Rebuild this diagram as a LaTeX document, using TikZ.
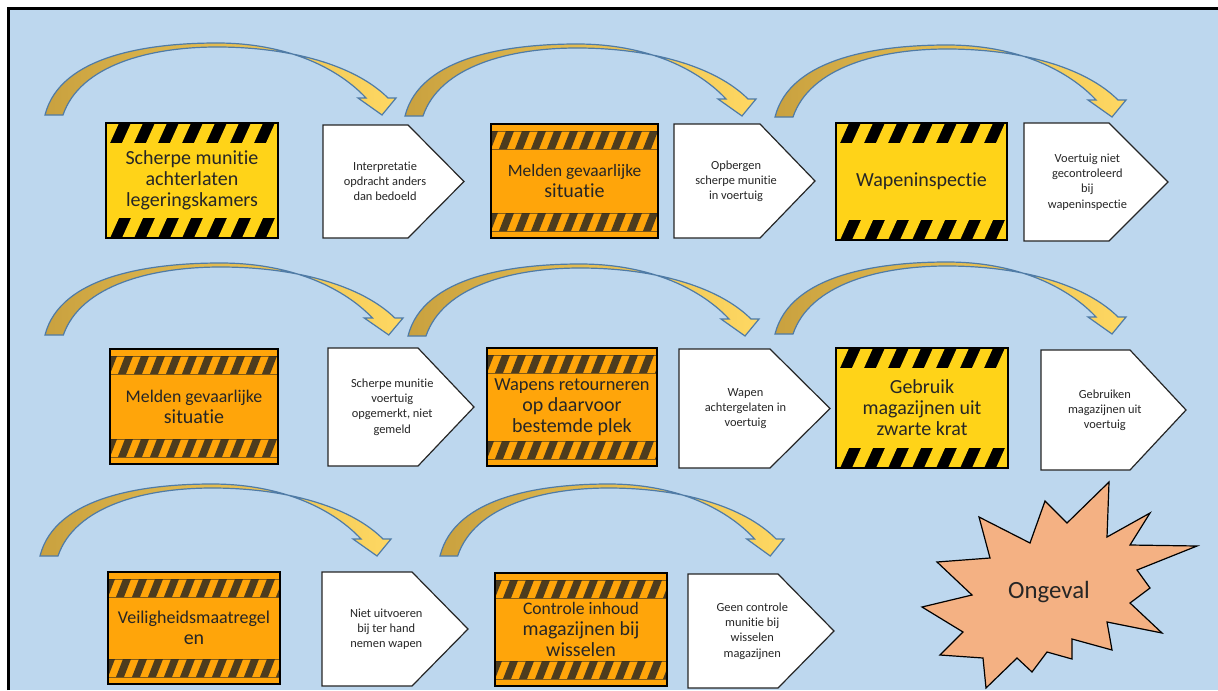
\documentclass[tikz,border=0pt]{standalone}
\usepackage{fontspec}
\setmainfont[Ligatures={NoCommon}]{Carlito}
\definecolor{bgblue}{HTML}{BDD7EE}
\definecolor{hzyellow}{HTML}{FFD318}
\definecolor{hzorange}{HTML}{FFA50A}
\definecolor{stripe}{HTML}{2E2A22}
\definecolor{goldL}{HTML}{C9A13F}
\definecolor{goldR}{HTML}{FFD862}
\definecolor{arrowline}{HTML}{4F7BA6}
\definecolor{txtgray}{HTML}{262626}
\definecolor{burst}{HTML}{F4B183}
\newcommand\fsz[2]{\fontsize{#1}{#2}\selectfont}
\tikzset{
  boxtxt/.style={text=txtgray, font=\fontsize{10}{10.5}\selectfont, align=center, inner sep=0pt},
  pentxt/.style={text=txtgray, font=\fontsize{6.2}{7.6}\selectfont, align=center, inner sep=0pt},
  pentshape/.style={draw=black!85, line width=0.6pt, fill=white},
  carrow/.pic={
    \path[draw=arrowline, line width=0.6pt, left color=goldL, right color=goldR]
      (0,0) .. controls (15,-60) and (105,-72) .. (172,-72)
      .. controls (245,-72) and (295,-45) .. (321,-17)
      -- (313,-17) -- (337,0) -- (351,-17) -- (343,-17)
      .. controls (310,-50) and (245,-68) .. (172,-68)
      .. controls (105,-68) and (35,-50) .. (18,0) -- cycle;
  }
}
% yellow hazard box: name, x1, y1, x2, y2, text
\newcommand\yelbox[6]{%
  \fill[hzyellow] (#2,#3) rectangle (#4,#5);
  \begin{scope}
    \clip (#2,#3) rectangle (#4,{#3+20});
    \fill[black] (#2,#3) rectangle (#4,{#3+20});
    \foreach \k in {0,...,9}
      \fill[hzyellow] ({#2+\k*24-8},{#3+20}) -- ++(12,0) -- ++(9,-20) -- ++(-12,0) -- cycle;
  \end{scope}
  \begin{scope}
    \clip (#2,{#5-20}) rectangle (#4,#5);
    \fill[black] (#2,{#5-20}) rectangle (#4,#5);
    \foreach \k in {0,...,9}
      \fill[hzyellow] ({#2+\k*24-8},#5) -- ++(12,0) -- ++(9,-20) -- ++(-12,0) -- cycle;
  \end{scope}
  \draw[black, line width=0.6pt] (#2,#3) rectangle (#4,#5);
  \node[boxtxt] (#1) at ({(#2+#4)/2},{(#3+#5)/2}) {#6};
}
% orange worn hazard box
\newcommand\orabox[6]{%
  \fill[hzorange] (#2,#3) rectangle (#4,#5);
  \begin{scope}
    \clip (#2,{#3+7}) rectangle (#4,{#3+25});
    \foreach \k in {0,...,11}
      \fill[stripe, opacity=0.85] ({#2+\k*16-8},{#3+25}) -- ++(8,0) -- ++(7,-18) -- ++(-8,0) -- cycle;
  \end{scope}
  \begin{scope}
    \clip (#2,{#5-25}) rectangle (#4,{#5-7});
    \foreach \k in {0,...,11}
      \fill[stripe, opacity=0.85] ({#2+\k*16-8},{#5-7}) -- ++(8,0) -- ++(7,-18) -- ++(-8,0) -- cycle;
  \end{scope}
  \draw[stripe, opacity=0.6, line width=0.5pt] (#2,{#3+7}) -- (#4,{#3+7}) (#2,{#3+25}) -- (#4,{#3+25})
     (#2,{#5-25}) -- (#4,{#5-25}) (#2,{#5-7}) -- (#4,{#5-7});
  \draw[black, line width=0.6pt] (#2,#3) rectangle (#4,#5);
  \node[boxtxt] (#1) at ({(#2+#4)/2},{(#3+#5)/2}) {#6};
}
% pentagon: name, x1, y1, xr, x2, y2, text
\newcommand\pent[7]{%
  \draw[pentshape] (#2,#3) -- (#4,#3) -- (#5,{(#3+#6)/2}) -- (#4,#6) -- (#2,#6) -- cycle;
  \node[pentxt] (#1) at ({#2+0.44*(#5-#2)},{(#3+#6)/2}) {#7};
}
\begin{document}
\begin{tikzpicture}[x=0.5pt,y=-0.5pt]
\useasboundingbox (0,0) rectangle (1218,690);
\fill[white] (0,0) rectangle (1218,690);
\fill[bgblue] (8.5,8.5) rectangle (1218,690);
\draw[black, line width=1.5pt] (8.5,690) -- (8.5,8.5) -- (1218,8.5);

% curved arrows
\pic at (45,115) {carrow};
\pic at (405,116) {carrow};
\pic at (775,117) {carrow};
\pic[xscale=1.02] at (45,335) {carrow};
\pic at (408,336) {carrow};
\pic at (775,334) {carrow};
\pic at (40,556) {carrow};
\pic[xscale=0.98] at (440,556) {carrow};

% row 1
\yelbox{b1}{106}{123}{278}{238}{Scherpe munitie\\achterlaten\\legeringskamers}
\pent{p1}{323}{125}{408}{464}{238}{Interpretatie\\opdracht anders\\dan bedoeld}
\orabox{b2}{491}{124}{658}{238}{\fsz{8.7}{10.5}Melden gevaarlijke\\situatie}
\pent{p2}{674}{124}{760}{815}{238}{Opbergen\\scherpe munitie\\in voertuig}
\yelbox{b3}{836}{123}{1007}{240}{Wapeninspectie}
\pent{p3}{1024}{123}{1109}{1168}{241}{Voertuig niet\\gecontroleerd\\bij\\wapeninspectie}

% row 2
\orabox{b4}{110}{349}{278}{464}{\fsz{8.9}{10.5}Melden gevaarlijke\\situatie}
\pent{p4}{328}{348}{418}{474}{466}{Scherpe munitie\\voertuig\\opgemerkt, niet\\gemeld}
\orabox{b5}{487}{348}{657}{466}{\fsz{9.2}{10.5}Wapens retourneren\\op daarvoor\\bestemde plek}
\pent{p5}{679}{349}{770}{830}{468}{Wapen\\achtergelaten in\\voertuig}
\yelbox{b6}{836}{348}{1008}{468}{\fsz{10}{11.5}Gebruik\\magazijnen uit\\zwarte krat}
\pent{p6}{1041}{350}{1130}{1186}{470}{Gebruiken\\magazijnen uit\\voertuig}

% row 3
\orabox{b7}{108}{572}{280}{684}{\fsz{9}{10.5}Veiligheidsmaatregel\\en}
\pent{p7}{322}{572}{412}{468}{686}{Niet uitvoeren\\bij ter hand\\nemen wapen}
\orabox{b8}{495}{573}{667}{686}{\fsz{8.8}{10.5}Controle inhoud\\magazijnen bij\\wisselen}
\pent{p8}{688}{574}{778}{834}{688}{Geen controle\\munitie bij\\wisselen\\magazijnen}

% explosion
\draw[black, line width=0.6pt, fill=burst]
  (1109,482) -- (1107,537) -- (1150,513) -- (1130,545) -- (1197,546) -- (1137,570)
  -- (1150,588) -- (1130,603) -- (1162,633) -- (1107,622) -- (1112,650) -- (1072,639)
  -- (1072,659) -- (1047,652) -- (1032,672) -- (1017,658) -- (986,688) -- (983,658)
  -- (940,655) -- (963,632) -- (922,607) -- (972,595) -- (937,562) -- (990,558)
  -- (979,517) -- (1030,543) -- (1045,501) -- (1067,523) -- cycle;
\node[text=txtgray, font=\fontsize{12.4}{14}\selectfont, inner sep=0pt] (ong) at (1049,592) {Ongeval};
\end{tikzpicture}
\end{document}
